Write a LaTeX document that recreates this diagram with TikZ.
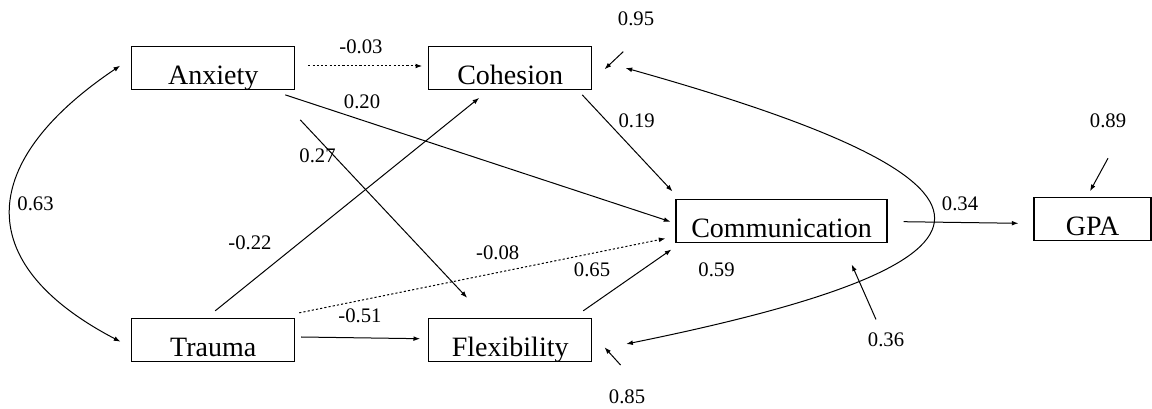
\documentclass[tikz,border=0pt]{standalone}
\usepackage{fontspec}
\setmainfont{Liberation Serif}
\usetikzlibrary{arrows.meta,calc}
\begin{document}
\begin{tikzpicture}[x=0.75pt,y=-0.75pt,
  box/.style={draw, line width=0.8pt, inner sep=0pt, minimum width=122.25pt,
    minimum height=32pt, text height=28.5pt, text depth=3.5pt,
    font=\fontsize{21}{24}\selectfont},
  lab/.style={inner sep=0pt, font=\fontsize{15.5}{18}\selectfont},
  conn/.style={line width=0.75pt, -{Latex[length=5pt,width=3.6pt]}},
  dotconn/.style={conn, dash pattern=on 1.6pt off 1.6pt},
  cov/.style={line width=0.75pt, {Latex[length=5pt,width=3.6pt]}-{Latex[length=5pt,width=3.6pt]}}]
\useasboundingbox (0,0) rectangle (1152,409);

% boxes
\node[box] (anx) at (213.2,68) {Anxiety};
\node[box] (coh) at (510.2,68) {Cohesion};
\node[box] (tra) at (213.2,339.7) {Trauma};
\node[box] (flex) at (510.2,339.7) {Flexibility};
\node[box, minimum width=158.25pt] (com) at (781.5,221.3) {Communication};
\node[box, minimum width=87.75pt] (gpa) at (1092.5,218.8) {GPA};

% paths
\draw[dotconn] ($(anx.east)+(13,-2)$) -- ($(coh.west)+(-6,-2)$);
\draw[conn] ($(anx.south east)+(-10,5)$) -- ($(com.west)+(-5,0.4)$);
\draw[conn] ($(anx.south east)+(5,30)$) -- ($(flex.north west)+(39,-20)$);
\draw[conn] ($(coh.south east)+(-10,5)$) -- ($(com.north west)+(-3,-8)$);
\draw[conn] ($(tra.north)+(2,-7)$) -- ($(coh.south)+(-31,8)$);
\draw[dotconn] ($(tra.north east)+(4,-5)$) -- ($(com.south west)+(-10,-4.7)$);
\draw[conn] ($(tra.east)+(6,-2.7)$) -- ($(flex.west)+(-8,-1)$);
\draw[conn] ($(flex.north east)+(-9,-7)$) -- ($(com.south west)+(-4,6.3)$);
\draw[conn] ($(com.east)+(16,0.4)$) -- ($(gpa.west)+(-15,4.5)$);

% residual arrows
\draw[conn] ($(coh.east)+(31,-16.3)$) -- ($(coh.east)+(12.3,1.3)$);
\draw[conn] ($(flex.east)+(28.3,25.3)$) -- ($(flex.east)+(12.3,7.6)$);
\draw[conn] ($(gpa.north)+(15.5,-38.7)$) -- ($(gpa.north)+(-2.5,-5.7)$);
\draw[conn] ($(com.south)+(94.5,76.3)$) -- ($(com.south)+(70.2,21.3)$);

% covariances
\draw[cov] ($(coh.east)+(33.3,0)$) .. controls (1035,183) and (1036,261) .. ($(flex.east)+(34,4.3)$);
\draw[cov] ($(tra.west)+(-10.7,2)$) .. controls (-32,262) and (-20,160) .. ($(anx.west)+(-11,-2.3)$);

% labels
\node[lab] (l1) at (361,47) {-0.03};
\node[lab] (l2) at (362,101.7) {0.20};
\node[lab] (l3) at (317.5,156) {0.27};
\node[lab] (l4) at (250,242.5) {-0.22};
\node[lab] (l5) at (497.7,253) {-0.08};
\node[lab] (l6) at (360,315.8) {-0.51};
\node[lab] (l7) at (592,269.7) {0.65};
\node[lab] (l8) at (716.5,269.7) {0.59};
\node[lab] (l9) at (636.7,120.5) {0.19};
\node[lab] (l10) at (636,18.3) {0.95};
\node[lab] (l11) at (627,397) {0.85};
\node[lab] (l12) at (960,204) {0.34};
\node[lab] (l13) at (1108,120.5) {0.89};
\node[lab] (l14) at (886,340) {0.36};
\node[lab] (l15) at (35.5,204) {0.63};
\end{tikzpicture}
\end{document}
